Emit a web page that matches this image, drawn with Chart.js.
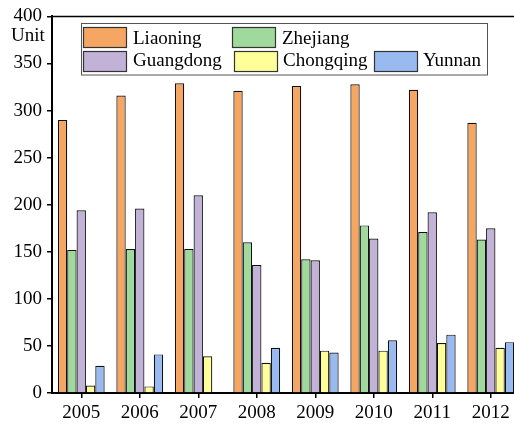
<!DOCTYPE html>
<html>
<head>
<meta charset="utf-8">
<script src="https://cdn.jsdelivr.net/npm/chart.js@4.4.1/dist/chart.umd.min.js"></script>
<style>
  html, body { margin: 0; padding: 0; background: #fff; overflow: hidden; width: 514px; height: 424px; }
  canvas { display: block; }
</style>
</head>
<body>
<canvas id="c" width="520" height="424"></canvas>
<script>
// Yearly values per province
const years = ['2005', '2006', '2007', '2008', '2009', '2010', '2011', '2012'];
const liaoning  = [290, 316, 329, 321, 326, 328, 322, 287];
const zhejiang  = [152, 153, 153, 160, 142, 178, 171, 163];
const guangdong = [194, 196, 210, 136, 141, 164, 192, 175];
const chongqing = [8, 7, 39, 32, 45, 45, 53, 48];
const yunnan    = [29, 41, null, 48, 43, 56, 62, 54];
const yTicks = [0, 50, 100, 150, 200, 250, 300, 350, 400];
const unitLabel = 'Unit';

const FONT = "'Liberation Serif', 'Times New Roman', serif";

const series = [
  { label: 'Liaoning',  data: liaoning,  color: '#F5A663' },
  { label: 'Zhejiang',  data: zhejiang,  color: '#9FD99C' },
  { label: 'Guangdong', data: guangdong, color: '#C2B2D8' },
  { label: 'Chongqing', data: chongqing, color: '#FFFF99' },
  { label: 'Yunnan',    data: yunnan,    color: '#99BAF0' }
];

// Legend slots: [swatchX, swatchY, textX, textBaseline]
const legendSlots = [
  [83, 27, 133, 44],
  [232, 27, 282, 44],
  [83, 51, 133, 66],
  [234, 51, 283, 66],
  [374, 51, 423, 66]
];

const decor = {
  id: 'decor',
  afterDatasetsDraw(chart) {
    const ctx = chart.ctx;
    const a = chart.chartArea;
    // top frame line
    ctx.save();
    ctx.strokeStyle = '#000';
    ctx.lineWidth = 1.5;
    ctx.beginPath();
    ctx.moveTo(a.left, a.top);
    ctx.lineTo(chart.width, a.top);
    ctx.stroke();

    // unit label
    ctx.fillStyle = '#000';
    ctx.font = '19px ' + FONT;
    ctx.textAlign = 'left';
    ctx.textBaseline = 'alphabetic';
    ctx.fillText(unitLabel, 11, 41);

    // legend box
    ctx.fillStyle = '#fff';
    ctx.fillRect(81.5, 23.5, 406, 51.5);
    ctx.strokeStyle = '#555';
    ctx.lineWidth = 1;
    ctx.strokeRect(81.5, 23.5, 406, 51.5);

    chart.data.datasets.forEach((ds, i) => {
      const s = legendSlots[i];
      ctx.fillStyle = ds.backgroundColor;
      ctx.fillRect(s[0], s[1], 44, 21);
      ctx.strokeStyle = '#333';
      ctx.lineWidth = 1.2;
      ctx.strokeRect(s[0] + 0.5, s[1] + 0.5, 43, 20);
      ctx.fillStyle = '#000';
      ctx.font = '19px ' + FONT;
      ctx.fillText(ds.label, s[2], s[3]);
    });
    ctx.restore();
  }
};

new Chart(document.getElementById('c'), {
  type: 'bar',
  data: {
    labels: years,
    datasets: series.map(s => ({
      label: s.label,
      data: s.data,
      backgroundColor: s.color,
      borderColor: '#111',
      borderWidth: 1.2,
      borderSkipped: 'bottom'
    }))
  },
  options: {
    responsive: false,
    animation: false,
    devicePixelRatio: 1,
    layout: { padding: { top: 16, left: 0, right: 0, bottom: 0 } },
    plugins: { legend: { display: false }, tooltip: { enabled: false } },
    datasets: { bar: { categoryPercentage: 0.8, barPercentage: 1.0 } },
    scales: {
      x: {
        offset: true,
        grid: { drawOnChartArea: false, tickLength: 5, color: '#000', lineWidth: 1.5, offset: false },
        border: { color: '#000', width: 2 },
        ticks: { color: '#000', font: { family: FONT, size: 19 }, padding: 4, maxRotation: 0 },
        afterFit(scale) { scale.height = 31; }
      },
      y: {
        min: 0,
        max: 400,
        afterBuildTicks(scale) { scale.ticks = yTicks.map(v => ({ value: v })); },
        grid: { drawOnChartArea: false, tickLength: 5, color: '#000', lineWidth: 1.5 },
        border: { color: '#000', width: 2 },
        ticks: { color: '#000', font: { family: FONT, size: 19 }, padding: 5 },
        afterFit(scale) { scale.width = 52; }
      }
    }
  },
  plugins: [decor]
});
</script>
</body>
</html>
